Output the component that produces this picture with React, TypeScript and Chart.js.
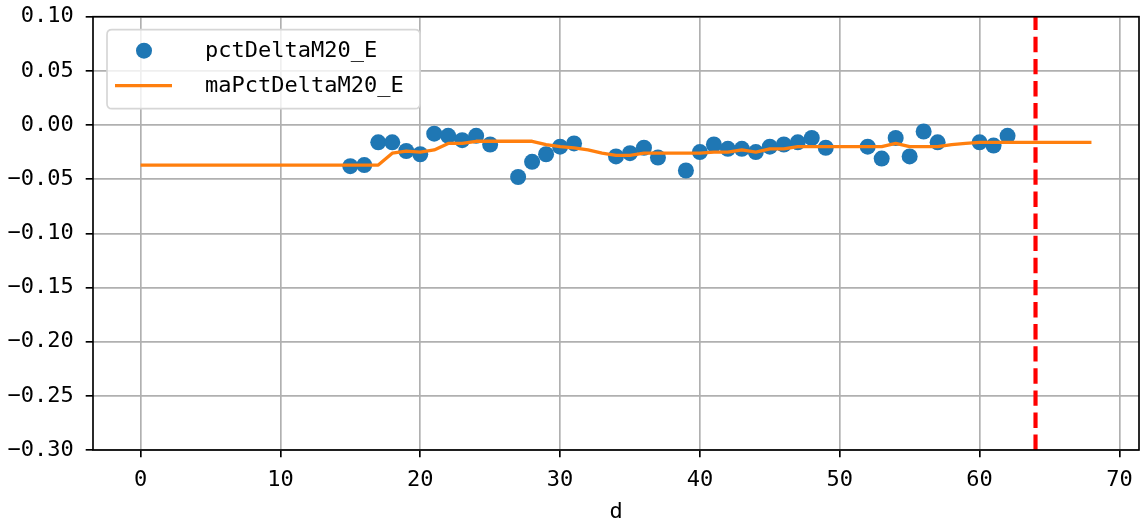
import { useEffect, useRef } from "react";
import { Chart, registerables } from "chart.js";

Chart.register(...registerables);

// ---- data ----
const pointDays = [15, 16, 17, 18, 19, 20, 21, 22, 23, 24, 25, 27, 28, 29, 30, 31, 34, 35, 36, 37, 39, 40, 41, 42, 43, 44, 45, 46, 47, 48, 49, 52, 53, 54, 55, 56, 57, 60, 61, 62];
const pctDeltaM20_E = [-0.038, -0.037, -0.016, -0.016, -0.024, -0.027, -0.008, -0.010, -0.014, -0.010, -0.018, -0.048, -0.034, -0.027, -0.020, -0.017, -0.029, -0.026, -0.021, -0.030, -0.042, -0.025, -0.018, -0.022, -0.022, -0.025, -0.020, -0.018, -0.016, -0.012, -0.021, -0.020, -0.031, -0.012, -0.029, -0.006, -0.016, -0.016, -0.019, -0.010];

const maDays = [0, 1, 2, 3, 4, 5, 6, 7, 8, 9, 10, 11, 12, 13, 14, 15, 16, 17, 18, 19, 20, 21, 22, 23, 24, 25, 26, 27, 28, 29, 30, 31, 32, 33, 34, 35, 36, 37, 38, 39, 40, 41, 42, 43, 44, 45, 46, 47, 48, 49, 50, 51, 52, 53, 54, 55, 56, 57, 58, 59, 60, 61, 62, 63, 64, 65, 66, 67, 68];
const maPctDeltaM20_E = [
  -0.037, -0.037, -0.037, -0.037, -0.037, -0.037, -0.037, -0.037, -0.037, -0.037,
  -0.037, -0.037, -0.037, -0.037, -0.037, -0.037, -0.037, -0.037, -0.026, -0.024,
  -0.025, -0.023, -0.017, -0.017, -0.015, -0.015, -0.015, -0.015, -0.015, -0.018,
  -0.020, -0.021, -0.023, -0.026, -0.028, -0.028, -0.026, -0.026, -0.026, -0.026,
  -0.026, -0.025, -0.025, -0.023, -0.025, -0.022, -0.022, -0.020, -0.020, -0.020,
  -0.020, -0.020, -0.020, -0.020, -0.017, -0.020, -0.020, -0.020, -0.018, -0.017,
  -0.016, -0.016, -0.016, -0.016, -0.016, -0.016, -0.016, -0.016, -0.016,
];

const markerDay = 64;

const xTicks = [0, 10, 20, 30, 40, 50, 60, 70];
const yTicks = [-0.3, -0.25, -0.2, -0.15, -0.1, -0.05, 0, 0.05, 0.1];
const xLimits = [-3.4, 71.4];
const yLimits = [-0.3, 0.1];

const seriesLabels = ["pctDeltaM20_E", "maPctDeltaM20_E"];
const xTitle = "d";

// ---- styling ----
const BLUE = "#1f77b4";
const ORANGE = "#ff7f0e";
const FONT = "'DejaVu Sans Mono', monospace";
const LW = 1.67;

function fmtY(v: number): string {
  const s = Math.abs(v) < 1e-9 ? "0.00" : v.toFixed(2);
  return s.replace("-", "\u2212");
}

const framePlugin = {
  id: "frameAndLegend",
  afterDraw(chart: any) {
    const ctx = chart.ctx as CanvasRenderingContext2D;
    const { left, top, right, bottom } = chart.chartArea;
    ctx.save();
    // spines
    ctx.strokeStyle = "#000";
    ctx.lineWidth = LW;
    ctx.strokeRect(left, top, right - left, bottom - top);

    // legend
    const x0 = left + 14;
    const y0 = top + 13;
    const w = 313;
    const h = 79;
    const r = 5;
    ctx.beginPath();
    ctx.moveTo(x0 + r, y0);
    ctx.lineTo(x0 + w - r, y0);
    ctx.quadraticCurveTo(x0 + w, y0, x0 + w, y0 + r);
    ctx.lineTo(x0 + w, y0 + h - r);
    ctx.quadraticCurveTo(x0 + w, y0 + h, x0 + w - r, y0 + h);
    ctx.lineTo(x0 + r, y0 + h);
    ctx.quadraticCurveTo(x0, y0 + h, x0, y0 + h - r);
    ctx.lineTo(x0, y0 + r);
    ctx.quadraticCurveTo(x0, y0, x0 + r, y0);
    ctx.closePath();
    ctx.fillStyle = "rgba(255,255,255,0.8)";
    ctx.fill();
    ctx.strokeStyle = "#d6d6d6";
    ctx.lineWidth = LW;
    ctx.stroke();

    const ds = chart.data.datasets;
    // item 1: marker
    ctx.beginPath();
    ctx.arc(x0 + 37, y0 + 21, 8, 0, Math.PI * 2);
    ctx.fillStyle = ds[0].pointBackgroundColor;
    ctx.fill();
    // item 2: line
    ctx.beginPath();
    ctx.moveTo(x0 + 8, y0 + 56);
    ctx.lineTo(x0 + 65, y0 + 56);
    ctx.strokeStyle = ds[1].borderColor;
    ctx.lineWidth = ds[1].borderWidth;
    ctx.stroke();

    ctx.fillStyle = "#000";
    ctx.font = `22px ${FONT}`;
    ctx.textAlign = "left";
    ctx.textBaseline = "middle";
    ctx.fillText(ds[0].label, x0 + 98, y0 + 22);
    ctx.fillText(ds[1].label, x0 + 98, y0 + 57);
    ctx.restore();
  },
};

export default function App() {
  const ref = useRef<HTMLCanvasElement | null>(null);

  useEffect(() => {
    if (!ref.current) return;
    const pts = pointDays.map((d, i) => ({ x: d, y: pctDeltaM20_E[i] }));
    const ma = maDays.map((d, i) => ({ x: d, y: maPctDeltaM20_E[i] }));
    const vline = [
      { x: markerDay, y: yLimits[0] },
      { x: markerDay, y: yLimits[1] },
    ];

    const chart = new Chart(ref.current, {
      type: "line",
      data: {
        datasets: [
          {
            label: seriesLabels[0],
            data: pts,
            showLine: false,
            pointRadius: 8,
            pointBackgroundColor: BLUE,
            pointBorderWidth: 0,
            pointBorderColor: BLUE,
            borderColor: BLUE,
            order: 3,
          } as any,
          {
            label: seriesLabels[1],
            data: ma,
            borderColor: ORANGE,
            borderWidth: 3.3,
            pointRadius: 0,
            tension: 0,
            borderJoinStyle: "round",
            order: 2,
          },
          {
            label: "vline",
            data: vline,
            borderColor: "#ff0000",
            borderWidth: 4.17,
            borderDash: [15.4, 6.7],
            borderCapStyle: "butt",
            pointRadius: 0,
            order: 1,
          },
        ],
      },
      options: {
        animation: false,
        responsive: false,
        events: [],
        layout: { autoPadding: false, padding: { top: 16.7, right: 2, left: 0, bottom: 0 } },
        plugins: {
          legend: { display: false },
          tooltip: { enabled: false },
        },
        scales: {
          x: {
            type: "linear",
            min: xLimits[0],
            max: xLimits[1],
            afterBuildTicks: (scale: any) => {
              scale.ticks = xTicks.map((v) => ({ value: v }));
            },
            afterFit: (scale: any) => {
              scale.height = 73;
              scale.paddingLeft = 0;
              scale.paddingRight = 0;
            },
            ticks: {
              autoSkip: false,
              maxRotation: 0,
              padding: 10,
              color: "#000",
              font: { family: FONT, size: 22 },
              callback: (v: any) => String(v),
            },
            grid: {
              color: "#b0b0b0",
              lineWidth: LW,
              tickColor: "#000",
              tickLength: 7.3,
              tickWidth: LW,
            },
            border: { display: false },
            title: {
              display: true,
              text: xTitle,
              color: "#000",
              font: { family: FONT, size: 22, lineHeight: 1 },
              padding: { top: 0, bottom: 0 },
            },
          },
          y: {
            type: "linear",
            min: yLimits[0],
            max: yLimits[1],
            afterBuildTicks: (scale: any) => {
              scale.ticks = yTicks.map((v) => ({ value: v }));
            },
            afterFit: (scale: any) => {
              scale.width = 93;
              scale.paddingTop = 0;
              scale.paddingBottom = 0;
            },
            ticks: {
              autoSkip: false,
              padding: 12,
              color: "#000",
              font: { family: FONT, size: 22 },
              callback: (v: any) => fmtY(Number(v)),
            },
            grid: {
              color: "#b0b0b0",
              lineWidth: LW,
              tickColor: "#000",
              tickLength: 7.3,
              tickWidth: LW,
            },
            border: { display: false },
          },
        },
      },
      plugins: [framePlugin],
    });
    return () => chart.destroy();
  }, []);

  return (
    <div style={{ position: "absolute", left: 0, top: 0, width: 1141, height: 523, background: "#fff" }}>
      <canvas ref={ref} width={1141} height={523} style={{ display: "block" }} />
    </div>
  );
}
